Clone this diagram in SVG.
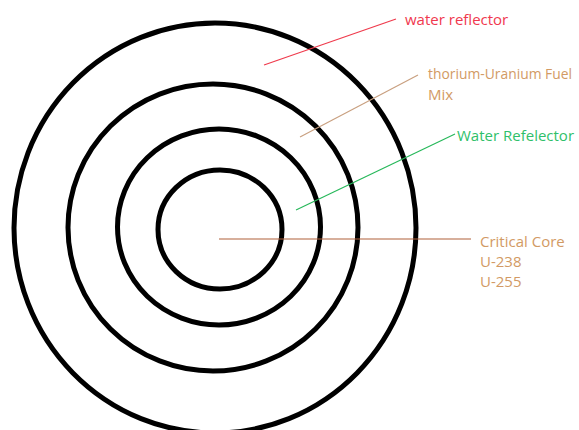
<svg xmlns="http://www.w3.org/2000/svg" width="579" height="430" viewBox="0 0 579 430">
<style>
.ring{fill:none;stroke:#000;stroke-width:5}
.lbl{font-family:"Open Sans","Liberation Sans",sans-serif;font-size:15px}
</style>
<rect width="579" height="430" fill="#fff"/>
<g id="outer-reflector"><ellipse class="ring" cx="215" cy="228" rx="201" ry="205"/></g>
<g id="fuel-mix"><ellipse class="ring" cx="213" cy="227.5" rx="145" ry="143.5"/></g>
<g id="inner-reflector"><ellipse class="ring" cx="219" cy="227" rx="101.5" ry="98"/></g>
<g id="critical-core"><ellipse class="ring" cx="220" cy="229.5" rx="62" ry="59.5"/></g>
<g id="connectors" fill="none" stroke-width="1.2">
<line x1="264" y1="65" x2="396" y2="19" stroke="#ef3a4c"/>
<line x1="300" y1="137" x2="418" y2="75" stroke="#c9a080"/>
<line x1="296" y1="210" x2="455" y2="134" stroke="#27b85a"/>
<line x1="219" y1="239" x2="471" y2="239" stroke="#b0613a"/>
</g>
<g id="labels" class="lbl">
<text x="405" y="25" fill="#f0384e">water reflector</text>
<text x="428" y="79" fill="#d29a64" font-size="14.5" textLength="144" lengthAdjust="spacingAndGlyphs">thorium-Uranium Fuel</text>
<text x="428" y="100" fill="#d29a64">Mix</text>
<text x="457" y="141" fill="#2fbf6a">Water Refelector</text>
<text x="480" y="247" fill="#d29a64">Critical Core</text>
<text x="480" y="267" fill="#d29a64">U-238</text>
<text x="480" y="287" fill="#d29a64">U-255</text>
</g>
</svg>
